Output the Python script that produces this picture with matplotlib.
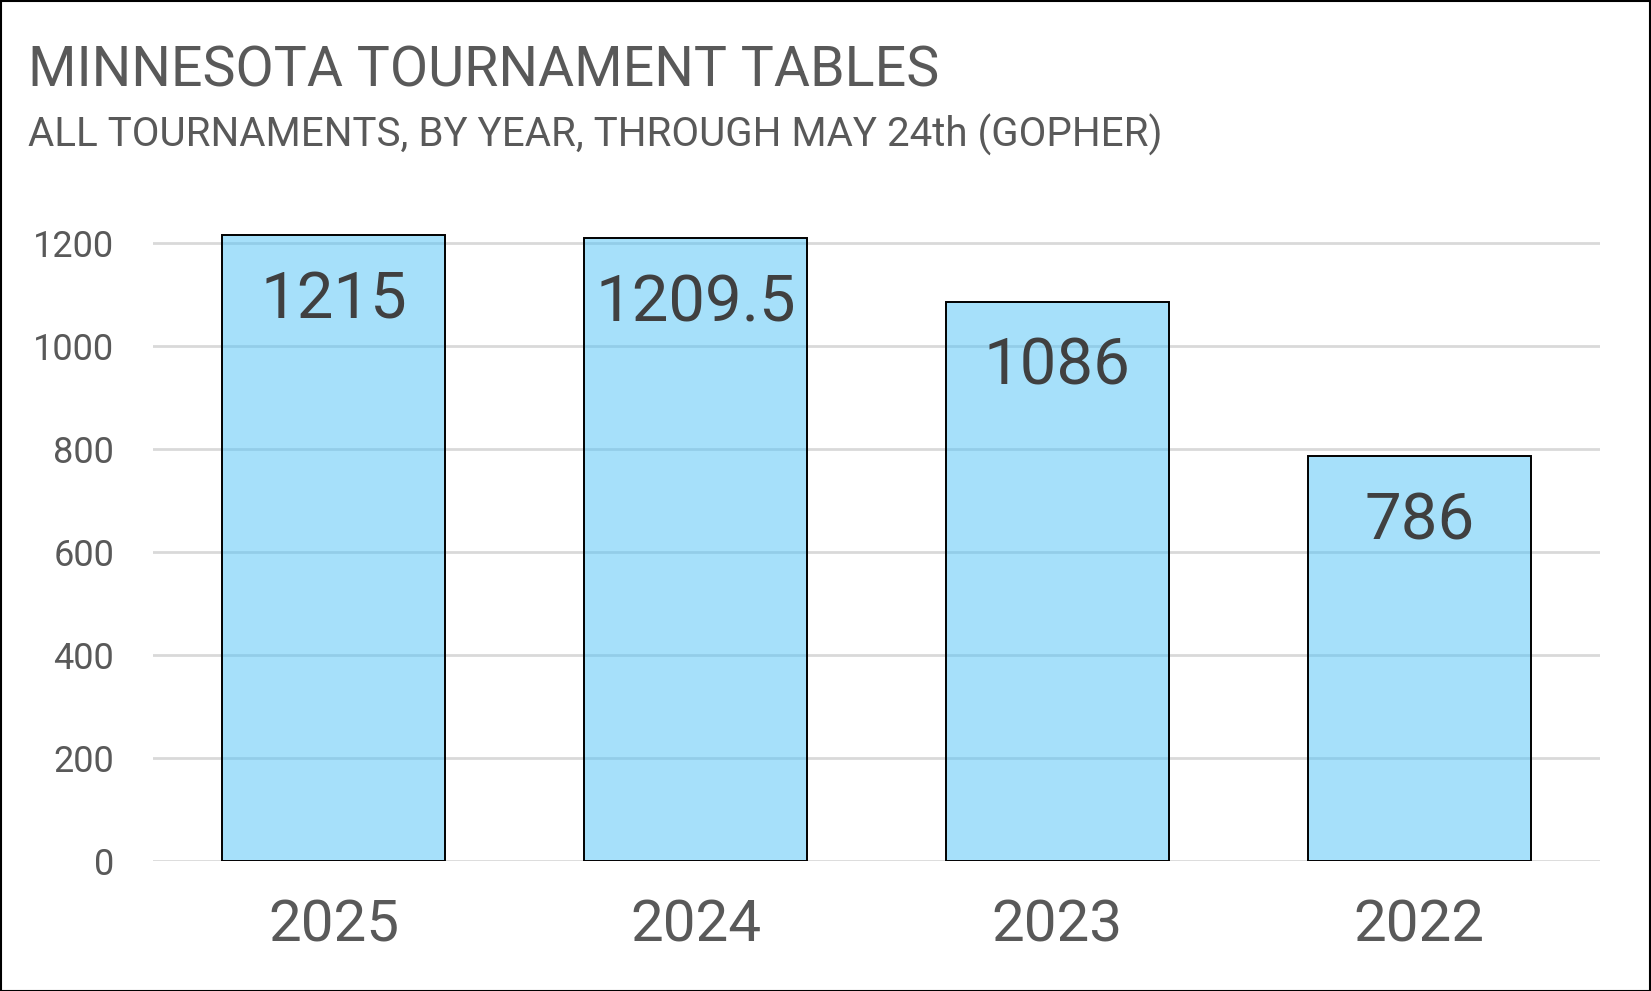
import matplotlib
matplotlib.use("Agg")
import matplotlib.pyplot as plt
from matplotlib.patches import Rectangle

categories = ["2025", "2024", "2023", "2022"]
values = [1215, 1209.5, 1086, 786]
value_labels = ["1215", "1209.5", "1086", "786"]
yticks = [0, 200, 400, 600, 800, 1000, 1200]
title = "MINNESOTA TOURNAMENT TABLES"
subtitle = "ALL TOURNAMENTS, BY YEAR, THROUGH MAY 24th (GOPHER)"

FONT = ["Roboto", "DejaVu Sans"]
W, H, DPI = 1651, 991, 100
fig = plt.figure(figsize=(W / DPI, H / DPI), dpi=DPI)
fig.patch.set_facecolor("white")

ax = fig.add_axes([153 / W, 1 - 861 / H, (1600 - 153) / W, (861 - 140) / H])
x = list(range(len(categories)))
ax.set_axisbelow(True)
ax.yaxis.grid(True, color="#D9D9D9", linewidth=2)
ax.bar(x, values, width=0.616, color="#4FC3F7", alpha=0.5, edgecolor="none", zorder=2)
ax.bar(x, values, width=0.616, facecolor="none", edgecolor="black", linewidth=1.4, zorder=3)
ax.set_xlim(-0.5, len(categories) - 0.5)
ax.set_ylim(0, 1400)
ax.set_yticks(yticks)
ax.set_yticklabels([str(t) for t in yticks], fontsize=26, color="#595959", family=FONT)
ax.set_xticks(x)
ax.set_xticklabels(categories, fontsize=42, color="#595959", family=FONT)
ax.tick_params(axis="y", length=0, pad=28)
ax.tick_params(axis="x", length=0, pad=27)
for s in ax.spines.values():
    s.set_visible(False)

for xi, v, lab in zip(x, values, value_labels):
    ax.annotate(lab, (xi, v), xytext=(0, -47), textcoords="offset points",
                ha="center", va="center", fontsize=47, color="#404040", family=FONT)

fig.text(28 / W, 1 - 86 / H, title, fontsize=40, color="#595959", family=FONT,
         ha="left", va="baseline")
fig.text(28 / W, 1 - 147 / H, subtitle, fontsize=29, color="#595959", family=FONT,
         ha="left", va="baseline")

fig.add_artist(Rectangle((0.5 / W, 0.5 / H), 1 - 1.5 / W, 1 - 1.5 / H,
                         transform=fig.transFigure, fill=False, edgecolor="black", linewidth=1.5))

fig.savefig("out.png", dpi=DPI, facecolor="white")
